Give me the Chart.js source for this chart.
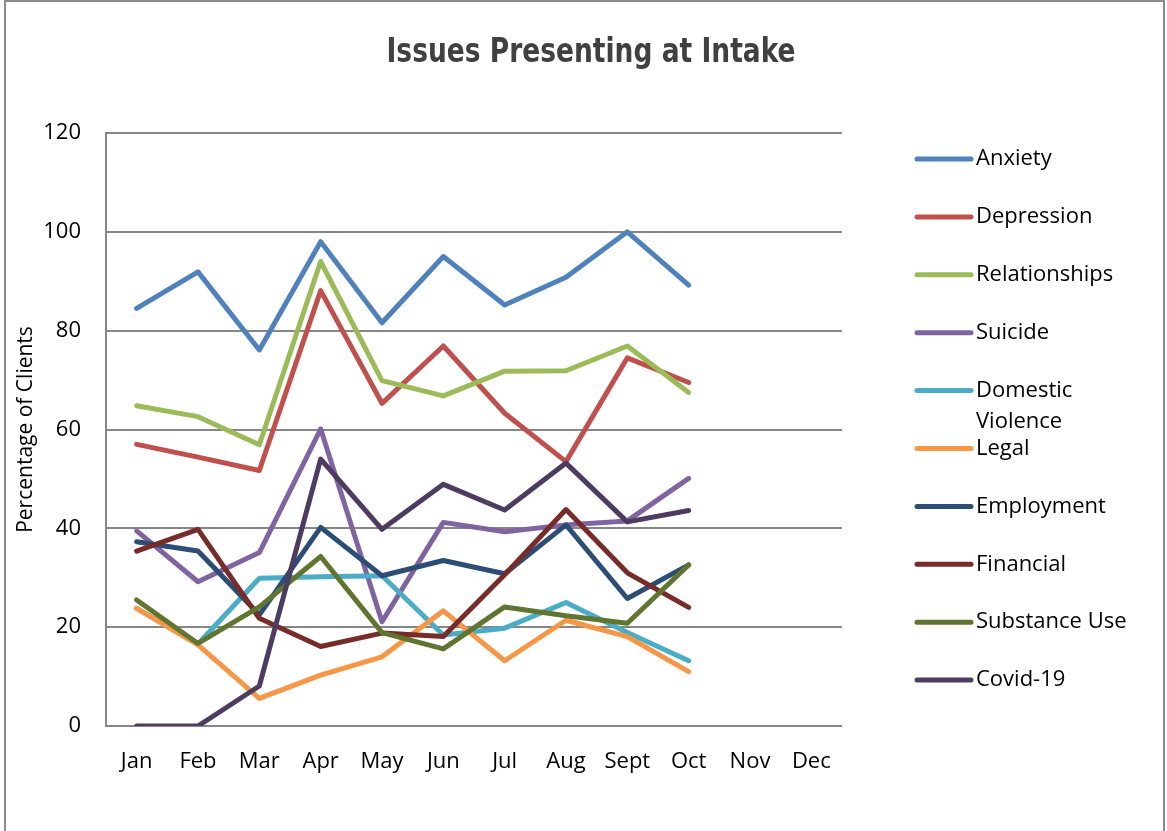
<!DOCTYPE html>
<html>
<head>
<meta charset="utf-8">
<title>Issues Presenting at Intake</title>
<script src="https://cdn.jsdelivr.net/npm/chart.js@4"></script>
<style>
  html, body { margin: 0; padding: 0; background: #fff; overflow: hidden; }
  #frame { position: absolute; left: 4px; top: 0; width: 1157px; height: 900px; border: 2px solid #8a8a8a; }
  #wrap { position: absolute; left: 0; top: 0; width: 1167px; height: 831px; }
</style>
</head>
<body>
<div id="frame"></div>
<div id="wrap"><canvas id="intakeChart"></canvas></div>
<script>
// months shown on the x axis (Nov/Dec have no data yet)
const months = ['Jan', 'Feb', 'Mar', 'Apr', 'May', 'Jun', 'Jul', 'Aug', 'Sept', 'Oct', 'Nov', 'Dec'];

// percentage of clients per issue
const anxiety       = [84.5, 91.9, 76.1, 98.0, 81.6, 95.0, 85.2, 90.8, 100.0, 89.2, null, null];
const depression    = [57.0, 54.4, 51.7, 88.1, 65.3, 76.9, 63.3, 53.5, 74.5, 69.5, null, null];
const relationships = [64.8, 62.6, 56.9, 94.0, 69.9, 66.8, 71.8, 71.9, 76.9, 67.5, null, null];
const suicide       = [39.5, 29.2, 35.1, 60.1, 21.1, 41.2, 39.3, 40.7, 41.5, 50.1, null, null];
const domestic      = [23.8, 16.6, 29.9, 30.2, 30.4, 18.4, 19.8, 25.0, 18.9, 13.2, null, null];
const legal         = [23.8, 16.4, 5.6, 10.3, 14.0, 23.3, 13.2, 21.4, 18.1, 11.0, null, null];
const employment    = [37.3, 35.4, 22.5, 40.2, 30.4, 33.5, 30.8, 40.7, 25.8, 32.6, null, null];
const financial     = [35.4, 39.8, 21.8, 16.1, 18.8, 18.1, 30.6, 43.8, 31.0, 24.0, null, null];
const substance     = [25.5, 16.7, 24.1, 34.3, 18.9, 15.6, 24.1, 22.3, 20.8, 32.6, null, null];
const covid         = [0, 0, 8.1, 54.0, 39.8, 48.9, 43.7, 53.2, 41.3, 43.6, null, null];

const seriesNames = ['Anxiety', 'Depression', 'Relationships', 'Suicide', 'Domestic Violence',
  'Legal', 'Employment', 'Financial', 'Substance Use', 'Covid-19'];
const seriesData = [anxiety, depression, relationships, suicide, domestic,
  legal, employment, financial, substance, covid];
const seriesColors = ['#4F81BD', '#C0504D', '#9BBB59', '#8064A2', '#4BACC6',
  '#F79646', '#2C4D75', '#772C2A', '#5F7530', '#4D3B62'];

const yTicks = [0, 20, 40, 60, 80, 100, 120];

const FONT = '"Open Sans", "Noto Sans", sans-serif';

// Excel draws later series on top, so give later series a lower order
const datasets = seriesNames.map((name, i) => ({
  label: name,
  data: seriesData[i],
  borderColor: seriesColors[i],
  backgroundColor: seriesColors[i],
  borderWidth: 5,
  borderJoinStyle: 'round',
  borderCapStyle: 'round',
  pointRadius: 0,
  pointHoverRadius: 0,
  tension: 0,
  fill: false,
  order: seriesNames.length - i
}));

// title + right-hand legend drawn straight onto the canvas
const sideLegend = {
  id: 'sideLegend',
  afterDraw(chart) {
    const ctx = chart.ctx;
    ctx.save();

    // condensed bold title, squeezed to the original's width
    const title = 'Issues Presenting at Intake';
    ctx.fillStyle = '#404040';
    ctx.font = 'bold 33px "Liberation Sans Narrow", "DejaVu Sans Condensed", "Open Sans", sans-serif';
    ctx.textAlign = 'center';
    ctx.textBaseline = 'alphabetic';
    const w = ctx.measureText(title).width;
    const sx = Math.min(1, 409 / w);
    ctx.save();
    ctx.translate(591, 62);
    ctx.scale(sx, 1);
    ctx.fillText(title, 0, 0);
    ctx.restore();

    ctx.font = '22px ' + FONT;
    ctx.textAlign = 'left';
    ctx.textBaseline = 'middle';
    chart.data.datasets.forEach((ds, i) => {
      const y = 159 + i * 57.9;
      ctx.strokeStyle = ds.borderColor;
      ctx.lineWidth = 5;
      ctx.lineCap = 'round';
      ctx.beginPath();
      ctx.moveTo(917, y);
      ctx.lineTo(971, y);
      ctx.stroke();

      ctx.fillStyle = '#000';
      // wrap long names onto a second line like the original
      const words = ds.label.split(' ');
      let lines = [ds.label];
      if (ctx.measureText(ds.label).width > 160 && words.length > 1) {
        lines = [words[0], words.slice(1).join(' ')];
      }
      lines.forEach((t, k) => ctx.fillText(t, 976, y + k * 31.5));
    });
    ctx.restore();
  }
};

const ctx = document.getElementById('intakeChart').getContext('2d');
new Chart(ctx, {
  type: 'line',
  data: { labels: months, datasets: datasets },
  plugins: [sideLegend],
  options: {
    responsive: true,
    maintainAspectRatio: false,
    animation: false,
    events: [],
    layout: { padding: { left: 0, top: 133, right: 325, bottom: 0 } },
    plugins: {
      legend: { display: false },
      title: { display: false },
      tooltip: { enabled: false }
    },
    scales: {
      x: {
        offset: true,
        grid: { display: false, drawTicks: false },
        border: { display: false },
        ticks: { color: '#000', font: { family: FONT, size: 22 }, padding: 23, maxRotation: 0 },
        afterFit(scale) { scale.height = 105; }
      },
      y: {
        min: 0,
        max: 120,
        afterBuildTicks(scale) { scale.ticks = yTicks.map(v => ({ value: v })); },
        grid: { color: '#868686', lineWidth: 2, drawTicks: false },
        border: { display: true, color: '#868686', width: 2 },
        ticks: { color: '#000', font: { family: FONT, size: 22 }, padding: 25 },
        title: {
          display: true,
          text: 'Percentage of Clients',
          color: '#000',
          font: { family: FONT, size: 21 },
          padding: { top: 13, bottom: 0 }
        },
        afterFit(scale) { scale.width = 106; }
      }
    }
  }
});
</script>
</body>
</html>
